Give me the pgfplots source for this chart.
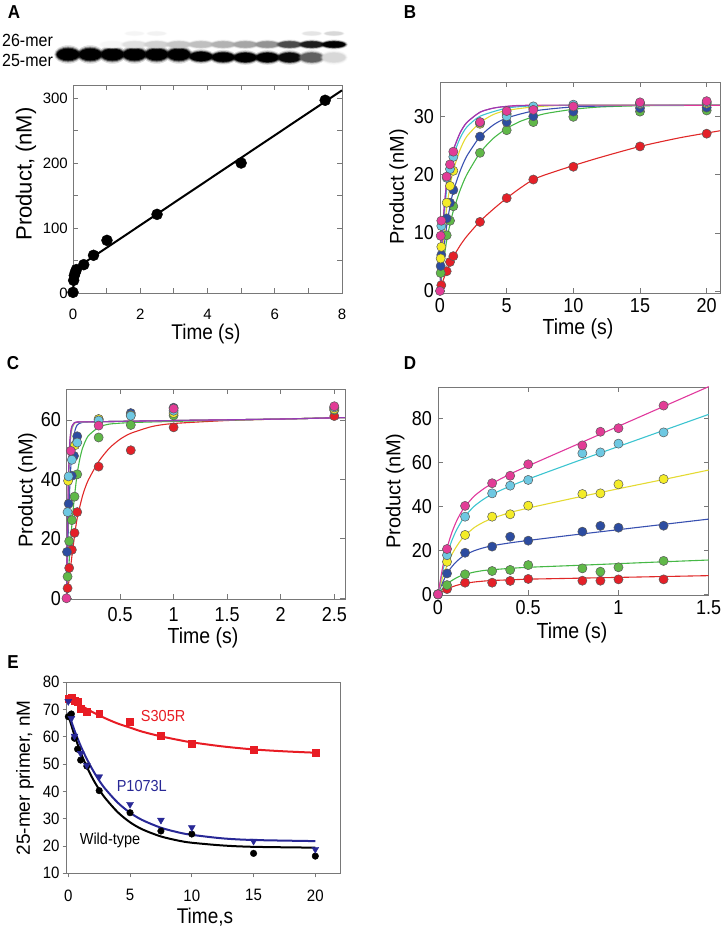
\documentclass[border=0pt]{standalone}
\usepackage{pgfplots}
\pgfplotsset{compat=1.18}
\usepackage{pgfplotstable}
\usepackage{fontspec}
\setmainfont{Liberation Sans}

\definecolor{axgray}{RGB}{120,120,120}
\definecolor{mred}{RGB}{228,32,40}
\definecolor{mgreen}{RGB}{96,184,72}
\definecolor{mblue}{RGB}{44,76,160}
\definecolor{myellow}{RGB}{244,236,40}
\definecolor{mcyan}{RGB}{110,200,226}
\definecolor{mmag}{RGB}{226,60,150}
\definecolor{lred}{RGB}{224,40,40}
\definecolor{lgreen}{RGB}{70,184,70}
\definecolor{lblue}{RGB}{56,80,176}
\definecolor{lyellow}{RGB}{228,218,50}
\definecolor{lcyan}{RGB}{60,196,208}
\definecolor{lmag}{RGB}{224,56,156}
\definecolor{lpurple}{RGB}{150,60,180}
\definecolor{ered}{RGB}{232,28,36}
\definecolor{eblue}{RGB}{40,40,150}

\pgfdeclareplotmark{gelband}{%
 \pgfsetfillopacity{0.15}\pgfpathellipse{\pgfpointorigin}{\pgfpoint{1.55\pgfplotmarksize}{0pt}}{\pgfpoint{0pt}{1.35\pgfplotmarksize}}\pgfusepathqfill
 \pgfsetfillopacity{0.3}\pgfpathellipse{\pgfpointorigin}{\pgfpoint{1.45\pgfplotmarksize}{0pt}}{\pgfpoint{0pt}{1.15\pgfplotmarksize}}\pgfusepathqfill
 \pgfsetfillopacity{0.6}\pgfpathellipse{\pgfpointorigin}{\pgfpoint{1.35\pgfplotmarksize}{0pt}}{\pgfpoint{0pt}{1.0\pgfplotmarksize}}\pgfusepathqfill
 \pgfsetfillopacity{1}\pgfpathellipse{\pgfpointorigin}{\pgfpoint{1.25\pgfplotmarksize}{0pt}}{\pgfpoint{0pt}{0.85\pgfplotmarksize}}\pgfusepathqfill}

\pgfplotsset{
 panel/.style={scale only axis, clip=false, anchor=north west,
   axis line style={draw=axgray,line width=0.9pt},
   tick style={draw=axgray,line width=0.8pt}, tick align=inside, major tick length=5pt,
   /pgf/number format/assume math mode=true, /pgf/number format/fixed,
   xticklabel style={anchor=north, inner sep=0pt},
   yticklabel style={anchor=east, inner sep=0pt},
   every axis x label/.style={anchor=center, inner sep=0pt, yscale=1.12, font=\fontsize{19.5}{22}\selectfont},
   every axis y label/.style={anchor=center, inner sep=0pt, rotate=90, font=\fontsize{20}{22}\selectfont},
 },
 dot/.style={only marks, mark=*, mark size=4.6pt, mark options={fill=#1, draw=black!65, line width=0.5pt}},
 fit/.style={no marks, smooth, tension=0.4, line width=1.1pt, draw=#1},
}

\pgfplotstableread{
t     r     g     b     y     c     m
0     0     0     0     0     0     0
0.025 1.4   2.6   5.3   7.4   10.2  12.0
0.05  2.5   4.7   9.4   13.2  18.0  21.0
0.075 3.3   6.2   12.4  17.8  24.1  27.7
0.1   4.0   7.4   14.7  21.4  28.8  32.8
0.125 4.55  8.4   16.5  24.4  32.5  36.8
0.15  4.98  9.1   17.9  26.7  35.6  39.9
0.2   5.6   10.1  19.8  30.3  40.0  44.6
0.25  6.0   10.8  21.1  32.7  43.1  47.8
0.3   6.3   11.2  22.1  34.5  45.5  50.4
0.4   6.6   11.8  23.4  37.2  49.2  54.7
0.5   6.9   12.3  24.5  39.2  52.4  58.4
0.75  7.3   13.1  27.0  43.7  59.9  67.4
1     7.7   13.95 29.4  48.0  67.2  76.4
1.25  8.1   14.8  31.8  52.2  74.5  85.4
1.5   8.5   15.6  34.2  56.5  81.8  94.4
}\Dfit
\pgfplotstableread{
t     r     g     b     y     c     m
0     0     0     0     0     0     0
0.05  2.4   4.2   9.5   14.8  17.8  20.6
0.15  5.3   9.1   18.9  27.0  35.3  40.2
0.3   5.3   10.6  21.7  35.3  45.9  50.5
0.4   6.1   11.1  26.2  36.4  49.4  53.9
0.5   7.0   13.3  24.4  40.3  52.0  59.1
0.8   6.2   11.8  28.5  45.6  64.1  67.7
0.9   6.2   10.3  31.1  45.9  64.5  73.9
1.0   6.8   12.3  30.3  50.0  68.5  75.5
1.25  6.8   15.2  31.2  52.4  73.6  85.8
}\Dpts

\begin{document}
\begin{tikzpicture}
\useasboundingbox (0pt,0pt) rectangle (724pt,-930pt);

% panel letters
\node[font=\fontsize{17}{17}\bfseries\selectfont, yscale=1.1] at (14pt,-12pt) {A};
\node[font=\fontsize{17}{17}\bfseries\selectfont, yscale=1.1] at (410pt,-12pt) {B};
\node[font=\fontsize{17}{17}\bfseries\selectfont, yscale=1.1] at (13pt,-363pt) {C};
\node[font=\fontsize{17}{17}\bfseries\selectfont, yscale=1.1] at (410pt,-363pt) {D};
\node[font=\fontsize{17}{17}\bfseries\selectfont, yscale=1.1] at (13pt,-662pt) {E};

% gel
\node[anchor=west, font=\fontsize{16}{16}\selectfont, inner sep=0pt, yscale=1.1] at (2pt,-40.7pt) {26-mer};
\node[anchor=west, font=\fontsize{16}{16}\selectfont, inner sep=0pt, yscale=1.1] at (2pt,-60pt) {25-mer};
\begin{axis}[scale only axis, hide axis, clip=false, anchor=north west,
  at={(57pt,-24pt)}, width=288pt, height=45pt, xmin=0, xmax=13, ymin=0, ymax=45,
  colormap={gel}{color=(white) color=(black)}, point meta min=0, point meta max=1]
\addplot[scatter, only marks, mark=gelband, mark size=9pt, point meta=explicit,
  scatter/use mapped color={draw=none, fill=mapped color}, mark options={yscale=0.76}]
  coordinates {(0.5,14.5)[1] (1.5,14.5)[1] (2.5,14.5)[1] (3.5,14.5)[1] (4.5,14.5)[1] (5.5,14.5)[1]};
\addplot[scatter, only marks, mark=gelband, mark size=9pt, point meta=explicit,
  scatter/use mapped color={draw=none, fill=mapped color}, mark options={yscale=0.6}]
  coordinates {(6.5,12.5)[1] (7.5,11.8)[1] (8.5,11.5)[1] (9.5,11.5)[1] (10.5,11.5)[0.95] (11.5,11.5)[0.62] (12.5,11.5)[0.15]};
\addplot[scatter, only marks, mark=gelband, mark size=9pt, point meta=explicit,
  scatter/use mapped color={draw=none, fill=mapped color}, mark options={yscale=0.4}]
  coordinates {(2.5,24.5)[0.03] (3.5,24.5)[0.12] (4.5,24.5)[0.18] (5.5,24.5)[0.22] (6.5,24.5)[0.25] (7.5,24.5)[0.3] (8.5,24.5)[0.35] (9.5,24.5)[0.42] (10.5,24.5)[0.7] (11.5,24.5)[0.88] (12.5,24.5)[1]};
\addplot[scatter, only marks, mark=gelband, mark size=7pt, point meta=explicit,
  scatter/use mapped color={draw=none, fill=mapped color}, mark options={yscale=0.3}]
  coordinates {(3.5,35.5)[0.04] (4.5,35.5)[0.05] (11.5,35.5)[0.1] (12.5,35.5)[0.15]};
\end{axis}

% Panel A
\begin{axis}[panel, at={(73pt,-85pt)}, width=269pt, height=208pt,
  xmin=0, xmax=8, ymin=0, ymax=320,
  xtick={0,1,...,8}, xticklabels={0,,2,,4,,6,,8},
  ytick={0,50,...,300}, yticklabels={0,,100,,200,,300},
  tick label style={font=\fontsize{15}{17}\selectfont},
  xticklabel style={yshift=-16pt}, yticklabel style={xshift=-5pt},
  xlabel={Time (s)}, ylabel={Product, (nM)},
  xlabel style={at={(axis description cs:0.494,-0.195)}, font=\fontsize{19}{21}\selectfont},
  ylabel style={at={(axis description cs:-0.175,0.572)}, font=\fontsize{22}{24}\selectfont}]
\addplot[no marks, black, line width=2pt] coordinates {(0,0)(0.02,14.5)(0.04,23.5)(0.06,29.3)(0.08,33.1)(0.1,35.6)(0.15,39.4)(0.2,41.7)(0.3,45.4)(1,69.6)(2,104.2)(4,173.4)(6,242.6)(8,311.8)};
\addplot[only marks, mark=*, mark size=5.5pt, black] coordinates {(0,1)(0.02,19.5)(0.04,27)(0.07,32)(0.1,36)(0.32,43.6)(0.61,58)(1.01,81)(2.5,121)(5,200)(7.5,296.5)};
\end{axis}

% Panel B
\begin{axis}[panel, at={(440pt,-82pt)}, width=280pt, height=211pt,
  xmin=0, xmax=21, ymin=-0.35, ymax=36,
  xtick={0,5,10,15,20}, ytick={0,10,20,30},
  tick label style={font=\fontsize{18}{20}\selectfont, yscale=1.12},
  xticklabel style={yshift=-5pt}, yticklabel style={xshift=-6pt},
  xlabel={Time (s)}, ylabel={Product (nM)},
  xlabel style={at={(axis description cs:0.493,-0.172)}},
  ylabel style={at={(axis description cs:-0.1475,0.502)}}]
\addplot[fit=lred] coordinates {(0,0)(0.25,1.9)(0.5,3.5)(0.75,4.8)(1,5.9)(1.5,7.8)(2,9.4)(3,12.0)(4,14.1)(5,16.0)(6,17.7)(7,19.2)(8,20.1)(10,21.6)(12,23.0)(15,24.9)(18,26.4)(21,27.6)};
\addplot[fit=lgreen] coordinates {(0,0)(0.1,2)(0.25,4.8)(0.5,8.7)(0.75,11.5)(1,13.8)(1.5,17.3)(2,20)(3,23.8)(4,26.3)(5,28)(6,29.2)(7,30)(8,30.6)(10,31.3)(12,31.7)(15,31.9)(21,32)};
\addplot[fit=lblue] coordinates {(0,0)(0.1,2.8)(0.25,6.5)(0.5,11.2)(0.75,14.6)(1,17.2)(1.5,20.6)(2,23.2)(3,26.6)(4,28.6)(5,29.8)(7,31)(10,31.7)(15,32)(21,32)};
\addplot[fit=lyellow] coordinates {(0,0)(0.1,4)(0.25,8.7)(0.5,14.3)(0.75,18)(1,20.8)(1.5,24.3)(2,26.6)(3,29)(4,30.4)(5,31.1)(7,31.7)(10,32)(21,32)};
\addplot[fit=lcyan] coordinates {(0,0)(0.1,5.5)(0.25,11)(0.5,17.5)(0.75,21)(1,23.3)(1.5,26.3)(2,28.2)(3,30.1)(5,31.5)(7,31.9)(10,32)(21,32)};
\addplot[fit=lmag] coordinates {(0,0)(0.1,6.5)(0.25,12.5)(0.5,18.8)(0.75,22)(1,24.3)(1.5,27.2)(2,29)(3,30.8)(4,31.5)(5,31.8)(7,32)(21,32)};
\addplot[fit=lpurple] coordinates {(0,0)(0.1,6.5)(0.25,12.5)(0.5,18.8)(0.75,22)(1,24.3)(1.5,27.2)(2,29)(3,30.8)(4,31.5)(5,31.8)(7,32)};
\addplot[dot=mred] coordinates {(0.1,1.0)(0.5,3.4)(0.75,5.0)(1,6.0)(3,11.9)(5,16.0)(7,19.2)(10,21.4)(15,24.9)(20,27.1)};
\addplot[dot=mgreen] coordinates {(0.05,3.1)(0.5,9.6)(0.75,12.1)(1,14.6)(3,23.8)(5,27.7)(7,29.1)(10,30.0)(15,30.9)(20,31.1)};
\addplot[dot=mblue] coordinates {(0.05,4.3)(0.1,6.2)(0.5,12.5)(0.75,15.2)(1,17.4)(3,26.6)(5,29.1)(7,30.1)(10,30.9)(15,31.5)(20,31.6)};
\addplot[dot=myellow] coordinates {(0.05,5.6)(0.1,7.6)(0.5,15.2)(0.75,18.1)(1,20.7)(3,28.8)(5,30.5)(7,31.5)(10,31.8)(15,32.2)(20,32.3)};
\addplot[dot=mcyan] coordinates {(0.1,11.2)(0.5,19.5)(0.75,21.0)(1,23.1)(3,29.0)(5,30.1)(7,31.8)(10,32.1)(15,32.3)(20,32.5)};
\addplot[dot=mmag] coordinates {(0,0)(0.05,9.5)(0.1,12.1)(0.5,19.7)(0.75,21.8)(1,24.0)(3,29.1)(5,31.0)(7,31.2)(10,31.8)(15,32.5)(20,32.7)};
\end{axis}

% Panel C
\begin{axis}[panel, at={(66.5pt,-389.3pt)}, width=278.5pt, height=210pt,
  xmin=0, xmax=2.6, ymin=-0.34, ymax=70.3,
  xtick={0.5,1,1.5,2,2.5}, ytick={0,20,40,60},
  tick label style={font=\fontsize{18}{20}\selectfont, yscale=1.12},
  xticklabel style={yshift=-7pt}, yticklabel style={xshift=-5.5pt},
  xlabel={Time (s)}, ylabel={Product (nM)},
  xlabel style={at={(axis description cs:0.49,-0.182)}},
  ylabel style={at={(axis description cs:-0.14,0.52)}}]
\addplot[fit=lred] coordinates {(0,0)(0.02,5)(0.05,14)(0.075,21)(0.1,27)(0.15,34.5)(0.2,39.5)(0.3,46)(0.4,50.5)(0.5,53.5)(0.6,55.5)(0.8,57.8)(1,58.8)(1.5,59.8)(2,60.3)(2.6,60.8)};
\addplot[fit=lgreen] coordinates {(0,0)(0.02,10)(0.04,20)(0.06,29)(0.08,36)(0.1,42)(0.125,47)(0.15,50.5)(0.2,54.5)(0.3,57.5)(0.4,58.6)(0.6,59.1)(1,59.5)(2,60.3)(2.6,60.8)};
\addplot[fit=lblue] coordinates {(0,0)(0.01,14)(0.02,27)(0.03,37)(0.04,44)(0.05,49)(0.06,52.5)(0.08,56.5)(0.1,58.3)(0.15,59.2)(0.3,59.4)(1,59.8)(2,60.3)(2.6,60.8)};
\addplot[fit=lyellow] coordinates {(0,0)(0.005,10)(0.01,21)(0.02,38)(0.03,48.5)(0.04,54)(0.05,56.8)(0.07,58.6)(0.1,59.2)(0.3,59.4)(1,59.8)(2,60.3)(2.6,60.8)};
\addplot[fit=lcyan] coordinates {(0,0)(0.005,11)(0.01,23)(0.02,40)(0.03,50)(0.04,55)(0.05,57.2)(0.07,58.8)(0.1,59.2)(0.3,59.4)(1,59.8)(2,60.3)(2.6,60.8)};
\addplot[fit=lmag] coordinates {(0,0)(0.005,13)(0.01,25)(0.02,43)(0.03,52)(0.04,56)(0.05,57.8)(0.07,58.9)(0.1,59.3)(0.3,59.4)(1,59.8)(2,60.3)(2.6,60.8)};
\addplot[fit=lpurple] coordinates {(0,0)(0.005,13)(0.01,25)(0.02,43)(0.03,52)(0.04,56)(0.05,57.8)(0.07,58.9)(0.1,59.3)(0.3,59.4)(1,59.8)(2,60.3)(2.6,60.8)};
\addplot[dot=mred] coordinates {(0.01,3.4)(0.025,10.2)(0.05,16.3)(0.075,22)(0.1,29)(0.3,44.3)(0.6,49.8)(1,57.5)(2.5,61.3)};
\addplot[dot=mgreen] coordinates {(0.01,7.3)(0.025,19.2)(0.05,26.3)(0.075,34.2)(0.1,41.7)(0.3,54.1)(0.6,58.3)(1,61.5)(2.5,63.3)};
\addplot[dot=mblue] coordinates {(0.005,15.6)(0.02,31.8)(0.05,41.2)(0.07,47.9)(0.1,54.5)(0.3,60.2)(0.6,62.3)(1,64.1)(2.5,64)};
\addplot[dot=myellow] coordinates {(0.015,39.5)(0.08,51.5)(0.3,60.3)(0.6,61.6)(1,62.3)(2.5,63.6)};
\addplot[dot=mcyan] coordinates {(0.01,29)(0.02,41)(0.05,46.6)(0.1,52.4)(0.3,59.8)(0.6,61.4)(1,63.1)(2.5,64.2)};
\addplot[dot=mmag] coordinates {(0,0)(0.04,49.6)(0.3,58.1)(1,63.8)(2.5,64.6)};
\end{axis}

% Panel D
\begin{axis}[panel, at={(438pt,-387.3pt)}, width=270.7pt, height=207.7pt,
  xmin=0, xmax=1.5, ymin=-0.3, ymax=94.1,
  xtick={0,0.5,1,1.5}, ytick={0,20,40,60,80},
  tick label style={font=\fontsize{18}{20}\selectfont, yscale=1.12},
  xticklabel style={yshift=-5pt}, yticklabel style={xshift=-6pt},
  xlabel={Time (s)}, ylabel={Product (nM)},
  xlabel style={at={(axis description cs:0.495,-0.18)}},
  ylabel style={at={(axis description cs:-0.158,0.50)}}]
\addplot[fit=lred] table[x=t,y=r] {\Dfit};
\addplot[fit=lgreen] table[x=t,y=g] {\Dfit};
\addplot[fit=lblue] table[x=t,y=b] {\Dfit};
\addplot[fit=lyellow] table[x=t,y=y] {\Dfit};
\addplot[fit=lcyan] table[x=t,y=c] {\Dfit};
\addplot[fit=lmag] table[x=t,y=m] {\Dfit};
\addplot[dot=mred] table[x=t,y=r] {\Dpts};
\addplot[dot=mgreen] table[x=t,y=g] {\Dpts};
\addplot[dot=mblue] table[x=t,y=b] {\Dpts};
\addplot[dot=myellow] table[x=t,y=y] {\Dpts};
\addplot[dot=mcyan] table[x=t,y=c] {\Dpts};
\addplot[dot=mmag] table[x=t,y=m] {\Dpts};
\end{axis}

% Panel E
\begin{axis}[panel, at={(66.7pt,-682.3pt)}, width=273.3pt, height=191pt,
  xmin=-0.13, xmax=22, ymin=10, ymax=80,
  xtick={0,5,10,15,20}, ytick={10,20,...,80},
  tick align=outside, xtick pos=bottom, ytick pos=left, major tick length=4pt,
  tick label style={font=\fontsize{15}{17}\selectfont, yscale=1.1},
  xticklabel style={yshift=-11pt}, yticklabel style={xshift=-3pt},
  xlabel={Time,s}, ylabel={25-mer primer, nM},
  xlabel style={at={(axis description cs:0.506,-0.227)}, font=\fontsize{19}{21}\selectfont},
  ylabel style={at={(axis description cs:-0.1526,0.5)}, font=\fontsize{19}{21}\selectfont}]
\addplot[no marks, smooth, ered, line width=2pt] coordinates {(0,74.5)(1,71.6)(2,69.0)(3,66.8)(4,64.9)(5,63.4)(6,61.9)(7.5,60.2)(9,58.8)(10,58.0)(12.5,56.5)(15,55.4)(17.5,54.7)(20,54.2)};
\addplot[no marks, smooth, black, line width=2pt] coordinates {(0,68)(0.5,60.6)(1,54.3)(1.5,49.0)(2,44.5)(2.5,40.7)(3,37.5)(4,32.4)(5,28.7)(6,26.1)(7.5,23.5)(9,21.9)(10,21.2)(12.5,20.2)(15,19.7)(20,19.4)};
\addplot[no marks, smooth, eblue, line width=2pt] coordinates {(0,69)(0.5,62.4)(1,56.7)(1.5,51.9)(2,47.7)(2.5,44.0)(3,40.9)(4,35.9)(5,32.2)(6,29.5)(7.5,26.7)(9,24.9)(10,24.1)(12.5,22.8)(15,22.2)(20,21.8)};
\addplot[only marks, mark=square*, mark size=3.4pt, ered] coordinates {(0,74.1)(0.25,74.3)(0.5,73.3)(0.75,72.9)(1,70.4)(1.5,69.2)(2.5,68.4)(5,65.6)(7.5,60.3)(10,57.4)(15,55.3)(20,54.3)};
\addplot[only marks, mark=*, mark size=3.3pt, black] coordinates {(0,67.4)(0.25,68.4)(0.5,59.5)(0.75,55.5)(1,51.5)(1.5,49.3)(2.5,40.3)(5,32.2)(7.5,25.5)(10,24.4)(15,17.3)(20,16.3)};
\addplot[only marks, mark=triangle*, mark size=4pt, eblue, mark options={rotate=180}] coordinates {(0,73)(0.25,66.8)(0.5,60.3)(1,54)(1.5,49.6)(2.5,45.4)(5,35.3)(7.5,29.5)(10,26.8)(15,21.8)(20,18.8)};
\node[ered, font=\fontsize{14.5}{16}\selectfont, yscale=1.1] at (axis cs:7.68,67.7) {S305R};
\node[eblue, font=\fontsize{14.5}{16}\selectfont, yscale=1.1] at (axis cs:5.95,42.1) {P1073L};
\node[black, font=\fontsize{14.5}{16}\selectfont, yscale=1.1] at (axis cs:3.38,22.2) {Wild-type};
\end{axis}
\end{tikzpicture}
\end{document}
